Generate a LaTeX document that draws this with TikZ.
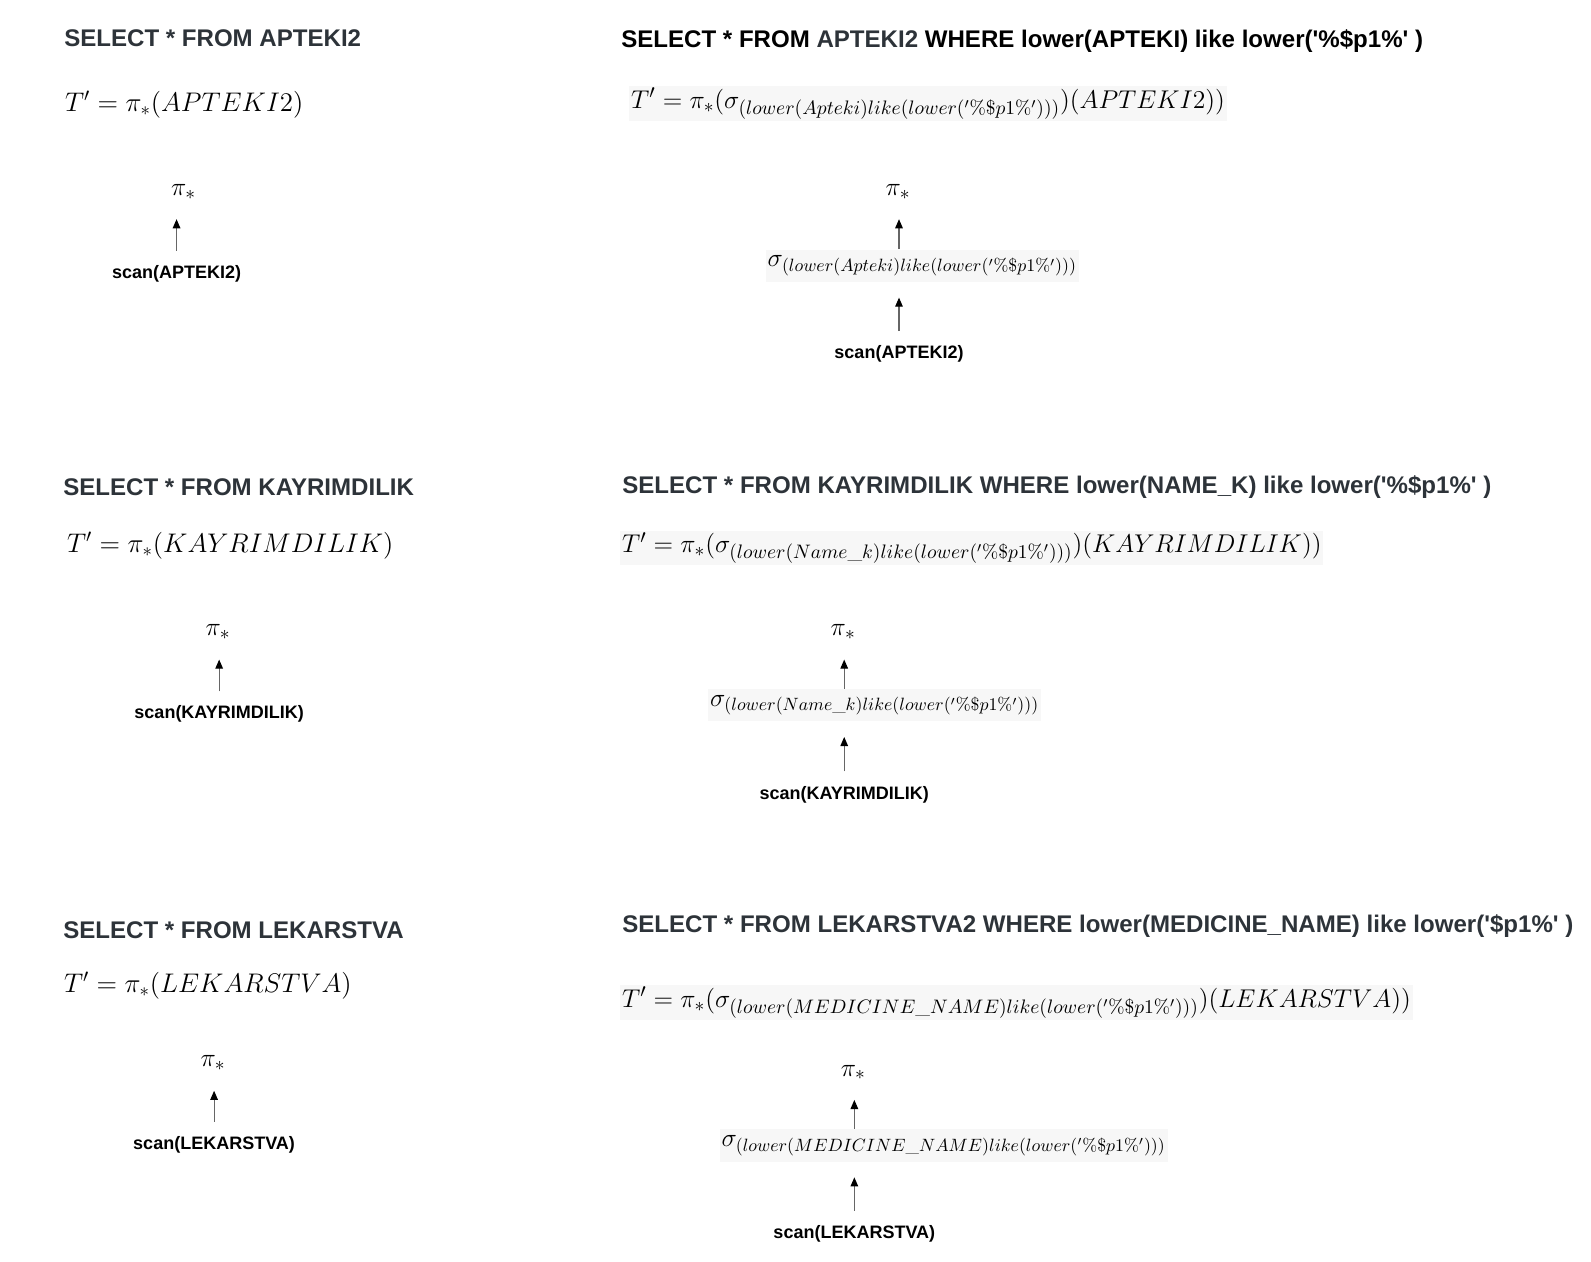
\RequirePackage{fix-cm}
\documentclass[tikz,border=0pt]{standalone}
\usepackage{fontspec}
\usepackage{amsmath}
\usepackage{xcolor}
\usepackage{tikz}
\usetikzlibrary{arrows.meta,positioning}
\newfontfamily\sqlfont{Liberation Sans}
\DeclareMathSizes{14.4}{14.4}{10.95}{8}
\DeclareMathSizes{14.41}{14.41}{10}{7.2}
\definecolor{headgray}{HTML}{2D3339}
\definecolor{formulabg}{HTML}{F7F7F7}
\tikzset{
  sqlhead/.style={anchor=west,inner sep=0pt,text=headgray,
    font=\sqlfont\bfseries\fontsize{13.5}{16}\selectfont},
  algebraline/.style={anchor=west,inner sep=1pt,font=\fontsize{15.1}{18}\selectfont},
  shadedline/.style={algebraline,fill=formulabg,font=\fontsize{14.4}{17}\selectfont},
  treeop/.style={inner sep=1pt,font=\fontsize{14.4}{17}\selectfont},
  shadedop/.style={treeop,fill=formulabg,inner xsep=1pt,inner ysep=3.5pt,
    font=\fontsize{14.41}{17}\selectfont},
  scanlabel/.style={inner sep=1pt,font=\sqlfont\bfseries\fontsize{10.1}{12}\selectfont},
  treearrow/.style={-{Triangle[length=1.8mm,width=1.5mm,color=black]},draw=black!60,semithick}
}
\newcommand{\q}{\textquotesingle}

\begin{document}
\begin{tikzpicture}[x=0.02cm,y=-0.02cm]
  \useasboundingbox (0,0) rectangle (1568,1243);

  % row 1
  \node[sqlhead] (headA) at (63,38) {SELECT * FROM APTEKI2};
  \node[algebraline] (formA) at (62,103) {$T' = \pi_*(APTEKI2)$};
  \node[treeop] (piA) at (181,189) {$\pi_*$};
  \node[scanlabel] (scanA) at (174,270) {scan(APTEKI2)};
  \draw[treearrow,shorten <=7pt,shorten >=10pt] (scanA) -- (scanA |- piA.south);

  \node[sqlhead,text=black] (headB) at (612,40)
    {SELECT * FROM \textcolor{headgray}{APTEKI2} WHERE lower(APTEKI) like lower(\q\%\$p1\%\q{} )};
  \node[shadedline] (formB) at (620,102)
    {$T' = \pi_*(\sigma_{(lower(Apteki)like(lower('\%\$p1\%')))})(APTEKI2))$};
  \node[treeop] (piB) at (885,189) {$\pi_*$};
  \node[shadedop] (sigB) at (909,262) {$\sigma_{(lower(Apteki)like(lower('\%\$p1\%')))}$};
  \node[scanlabel] (scanB) at (886,349) {scan(APTEKI2)};
  \draw[treearrow,shorten <=7pt,shorten >=8.5pt] (scanB) -- (scanB |- sigB.south);
  \draw[treearrow,shorten >=10pt] (scanB |- sigB.north) -- (scanB |- piB.south);

  % row 2
  \node[sqlhead] (headC) at (62,480) {SELECT * FROM KAYRIMDILIK};
  \node[algebraline] (formC) at (64,538) {$T' = \pi_*(KAYRIMDILIK)$};
  \node[treeop] (piC) at (215,623) {$\pi_*$};
  \node[scanlabel] (scanC) at (216,704) {scan(KAYRIMDILIK)};
  \draw[treearrow,shorten <=7pt,shorten >=10pt] (scanC) -- (scanC |- piC.south);

  \node[sqlhead] (headD) at (613,480)
    {SELECT * FROM KAYRIMDILIK WHERE lower(NAME\_K) like lower(\q\%\$p1\%\q{} )};
  \node[shadedline] (formD) at (611,540)
    {$T' = \pi_*(\sigma_{(lower(Name\_k)like(lower('\%\$p1\%')))})(KAYRIMDILIK))$};
  \node[treeop] (piD) at (831,623) {$\pi_*$};
  \node[shadedop] (sigD) at (862,695) {$\sigma_{(lower(Name\_k)like(lower('\%\$p1\%')))}$};
  \node[scanlabel] (scanD) at (832,783) {scan(KAYRIMDILIK)};
  \draw[treearrow,shorten <=7pt,shorten >=8.5pt] (scanD) -- (scanD |- sigD.south);
  \draw[treearrow,shorten >=10pt] (scanD |- sigD.north) -- (scanD |- piD.south);

  % row 3
  \node[sqlhead] (headE) at (62,917) {SELECT * FROM LEKARSTVA};
  \node[algebraline] (formE) at (61,971) {$T' = \pi_*(LEKARSTVA)$};
  \node[treeop] (piE) at (210,1048) {$\pi_*$};
  \node[scanlabel] (scanE) at (211,1128) {scan(LEKARSTVA)};
  \draw[treearrow,shorten <=7pt,shorten >=10pt] (scanE) -- (scanE |- piE.south);

  \node[sqlhead] (headF) at (613,913)
    {SELECT * FROM LEKARSTVA2 WHERE lower(MEDICINE\_NAME) like lower(\q\$p1\%\q{} )};
  \node[shadedline] (formF) at (611,988)
    {$T' = \pi_*(\sigma_{(lower(MEDICINE\_NAME)like(lower('\%\$p1\%')))})(LEKARSTVA))$};
  \node[treeop] (piF) at (841,1057) {$\pi_*$};
  \node[shadedop] (sigF) at (930,1129) {$\sigma_{(lower(MEDICINE\_NAME)like(lower('\%\$p1\%')))}$};
  \node[scanlabel] (scanF) at (842,1216) {scan(LEKARSTVA)};
  \draw[treearrow,shorten <=7pt,shorten >=8.5pt] (scanF) -- (scanF |- sigF.south);
  \draw[treearrow,shorten >=10pt] (scanF |- sigF.north) -- (scanF |- piF.south);
\end{tikzpicture}
\end{document}
